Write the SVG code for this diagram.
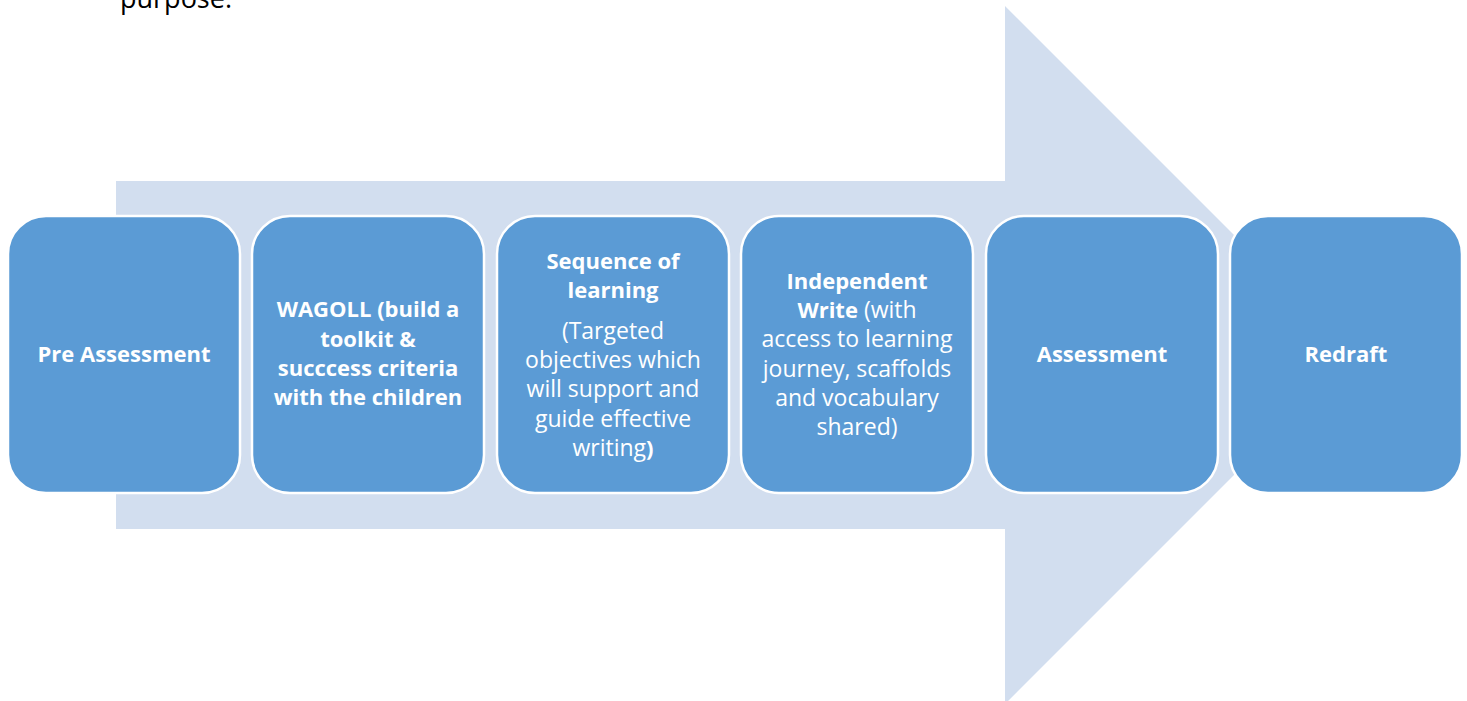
<svg xmlns="http://www.w3.org/2000/svg" width="1467" height="701" viewBox="0 0 1467 701">
  <style>
    .step { fill: #5B9BD5; stroke: #FFFFFF; stroke-width: 2.5; }
    .lbl { font-family: "Open Sans", "Liberation Sans", sans-serif; font-size: 23px; fill: #FFFFFF; text-anchor: middle; }
    .b { font-weight: bold; font-size: 22px; }
    .body { font-family: "Open Sans", "Liberation Sans", sans-serif; font-size: 27px; fill: #000000; }
  </style>
  <rect width="1467" height="701" fill="#FFFFFF"/>
  <text class="body" x="120" y="8">purpose.</text>

  <!-- background block arrow -->
  <g id="connectors">
    <polygon points="116,181 1005,181 1005,6 1354,355 1005,704 1005,529 116,529" fill="#D2DEEF"/>
  </g>

  <g id="step-pre-assessment">
    <rect class="step" x="8" y="216" width="232" height="277" rx="38"/>
    <text class="lbl b" x="124" y="362">Pre Assessment</text>
  </g>

  <g id="step-wagoll">
    <rect class="step" x="252" y="216" width="232" height="277" rx="38"/>
    <text class="lbl b" x="368" y="317">WAGOLL (build a</text>
    <text class="lbl b" x="368" y="347">toolkit &amp;</text>
    <text class="lbl b" x="368" y="376">succcess criteria</text>
    <text class="lbl b" x="368" y="405">with the children</text>
  </g>

  <g id="step-sequence">
    <rect class="step" x="497" y="216" width="232" height="277" rx="38"/>
    <text class="lbl b" x="613" y="269">Sequence of</text>
    <text class="lbl b" x="613" y="298">learning</text>
    <text class="lbl" x="613" y="339">(Targeted</text>
    <text class="lbl" x="613" y="368">objectives which</text>
    <text class="lbl" x="613" y="397">will support and</text>
    <text class="lbl" x="613" y="427">guide effective</text>
    <text class="lbl" x="613" y="456">writing<tspan class="b">)</tspan></text>
  </g>

  <g id="step-independent">
    <rect class="step" x="741" y="216" width="232" height="277" rx="38"/>
    <text class="lbl b" x="857" y="289">Independent</text>
    <text class="lbl" x="857" y="318"><tspan class="b">Write</tspan> (with</text>
    <text class="lbl" x="857" y="347">access to learning</text>
    <text class="lbl" x="857" y="377">journey, scaffolds</text>
    <text class="lbl" x="857" y="406">and vocabulary</text>
    <text class="lbl" x="857" y="435">shared)</text>
  </g>

  <g id="step-assessment">
    <rect class="step" x="986" y="216" width="232" height="277" rx="38"/>
    <text class="lbl b" x="1102" y="362">Assessment</text>
  </g>

  <g id="step-redraft">
    <rect class="step" x="1230" y="216" width="232" height="277" rx="38"/>
    <text class="lbl b" x="1346" y="362">Redraft</text>
  </g>
</svg>
